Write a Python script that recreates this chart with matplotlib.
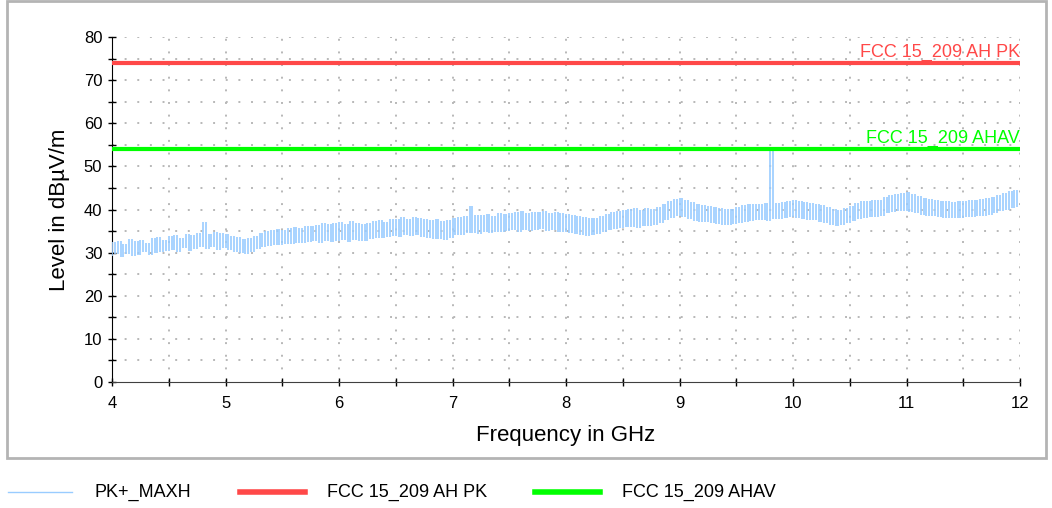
import numpy as np
import matplotlib

matplotlib.use("Agg")
import matplotlib.pyplot as plt
from matplotlib.lines import Line2D
from matplotlib.patches import Rectangle
from matplotlib.ticker import MultipleLocator

plt.rcParams["font.family"] = ["Liberation Sans", "DejaVu Sans"]

level = [
    29.2, 32.4, 29.6, 32.8, 29.0, 31.9, 29.8, 33.1, 29.3, 32.6,
    29.5, 33.0, 30.1, 32.2, 29.4, 33.4, 30.0, 33.6, 30.2, 32.9,
    30.3, 33.9, 30.6, 34.1, 30.1, 33.5, 31.0, 34.3, 30.4, 34.0,
    30.8, 34.6, 31.2, 37.2, 30.9, 34.4, 31.3, 34.8, 30.7, 34.5,
    31.0, 34.4, 30.6, 33.8, 30.2, 33.6, 30.0, 33.2, 29.8, 33.5,
    30.2, 33.9, 30.9, 34.6, 31.3, 35.0, 31.6, 35.2, 31.8, 35.4,
    31.7, 35.3, 32.0, 35.8, 31.9, 36.0, 32.3, 35.7, 32.2, 36.1,
    32.4, 36.3, 32.6, 36.5, 32.3, 36.8, 32.8, 36.6, 32.5, 36.9,
    32.6, 37.0, 32.9, 36.7, 32.4, 37.3, 33.0, 36.9, 32.8, 36.6,
    32.7, 36.9, 33.1, 37.4, 33.3, 37.6, 33.5, 37.2, 33.6, 37.8,
    33.8, 37.9, 33.6, 38.2, 34.0, 37.7, 33.9, 38.3, 34.1, 38.0,
    33.7, 37.8, 33.4, 37.5, 33.2, 37.9, 33.1, 37.4, 33.0, 37.6,
    33.4, 38.0, 34.0, 38.3, 34.2, 38.6, 34.5, 40.8, 34.6, 38.7,
    34.4, 38.8, 34.7, 39.0, 34.5, 38.6, 34.8, 39.2, 34.9, 38.9,
    35.0, 39.1, 35.2, 39.4, 34.9, 39.6, 35.3, 39.3, 35.1, 39.5,
    35.2, 39.4, 35.4, 39.7, 35.0, 39.2, 35.3, 39.5, 34.9, 39.1,
    34.8, 39.0, 34.6, 38.7, 34.3, 38.4, 34.1, 38.2, 33.9, 38.0,
    34.0, 38.1, 34.4, 38.6, 34.9, 39.0, 35.3, 39.4, 35.6, 39.6,
    35.7, 39.8, 35.9, 40.1, 36.0, 40.3, 35.8, 40.0, 36.2, 40.4,
    36.1, 40.2, 36.4, 40.6, 36.9, 41.3, 37.5, 41.9, 38.1, 42.4,
    38.4, 42.6, 38.2, 42.3, 37.7, 41.8, 37.4, 41.3, 37.2, 41.0,
    37.0, 40.9, 36.8, 40.6, 36.6, 40.4, 36.5, 40.2, 36.4, 40.1,
    36.6, 40.5, 36.9, 41.0, 37.2, 41.3, 37.4, 41.2, 37.5, 41.4,
    37.6, 41.5, 37.4, 54.0, 37.7, 41.6, 37.9, 41.8, 38.0, 42.0,
    38.2, 42.3, 38.1, 42.0, 37.9, 41.8, 37.6, 41.5, 37.5, 41.3,
    37.2, 41.0, 36.9, 40.6, 36.5, 40.2, 36.3, 40.0, 36.4, 40.3,
    36.9, 40.8, 37.4, 41.5, 37.8, 41.9, 38.1, 42.0, 38.2, 42.2,
    38.3, 42.3, 38.6, 42.8, 39.1, 43.3, 39.4, 43.6, 39.6, 43.8,
    39.7, 44.1, 39.5, 43.6, 39.2, 43.2, 38.8, 42.7, 38.6, 42.4,
    38.4, 42.2, 38.3, 42.0, 38.1, 41.9, 38.0, 41.8, 38.1, 42.0,
    38.0, 41.9, 38.2, 42.1, 38.3, 42.3, 38.5, 42.4, 38.6, 42.6,
    38.8, 42.8, 39.2, 43.3, 39.6, 43.8, 40.0, 44.2, 40.3, 44.5,
    40.6,
]
freq = np.linspace(4, 12, len(level))

limit_freq = [4, 12]
limit_pk = [74, 74]
limit_av = [54, 54]

series_names = ["PK+_MAXH", "FCC 15_209 AH PK", "FCC 15_209 AHAV"]
trace_color = "#99ccff"
pk_color = "#ff4848"
av_color = "#00ff00"

fig = plt.figure(figsize=(10.52, 5.08), dpi=100)
ax = fig.add_axes([0.1065, 0.248, 0.8631, 0.679])

# outer frame around the chart
fig.patches.append(Rectangle((0.0067, 0.0984), 0.9876, 0.8996, transform=fig.transFigure,
                             fill=False, edgecolor="#b4b4b4", linewidth=2))

# dotted grid
for x in np.arange(4.5, 12.01, 0.5):
    ax.axvline(x, color="#b8b8b8", lw=1.4, dashes=(1, 5.5), zorder=1)
for y in np.arange(5, 80.1, 5):
    ax.axhline(y, color="#b8b8b8", lw=1.4, dashes=(1, 5.5), zorder=1)

# max-hold trace drawn as vertical strokes between neighbouring samples
lv = np.array(level)
ax.vlines(freq[:-1], lv[:-1], lv[1:], color=trace_color, lw=1.2, zorder=3)
ax.plot(limit_freq, limit_pk, color=pk_color, lw=3, zorder=4, solid_capstyle="butt")
ax.plot(limit_freq, limit_av, color=av_color, lw=3, zorder=4, solid_capstyle="butt")

ax.text(12, limit_pk[0] + 0.4, series_names[1], color=pk_color, fontsize=13,
        ha="right", va="bottom")
ax.text(12, limit_av[0] + 0.4, series_names[2], color=av_color, fontsize=13,
        ha="right", va="bottom")

ax.set_xlim(4, 12)
ax.set_ylim(0, 80)
ax.xaxis.set_major_locator(MultipleLocator(1))
ax.xaxis.set_minor_locator(MultipleLocator(0.5))
ax.yaxis.set_major_locator(MultipleLocator(10))
ax.yaxis.set_minor_locator(MultipleLocator(5))
ax.tick_params(which="both", direction="inout", length=6, width=1, labelsize=12)
ax.tick_params(axis="y", pad=4)
ax.tick_params(axis="x", pad=7)

for s in ["top", "right"]:
    ax.spines[s].set_visible(False)
ax.spines["left"].set_color("black")
ax.spines["bottom"].set_color("#404040")

ax.set_xlabel("Frequency in GHz", fontsize=16, labelpad=10)
ax.set_ylabel("Level in dBµV/m", fontsize=16, labelpad=10)

# legend row below the frame
leg_y = 1 - 492 / 508
for (x0, x1, tx), color, lw, name in zip(
    [(8, 72, 95), (240, 305, 327), (535, 600, 622)],
    [trace_color, pk_color, av_color],
    [1, 4, 4],
    series_names,
):
    fig.add_artist(Line2D([x0 / 1052, x1 / 1052], [leg_y, leg_y], color=color, lw=lw,
                          transform=fig.transFigure))
    fig.text(tx / 1052, leg_y, name, fontsize=13, ha="left", va="center")

fig.savefig("out.png", dpi=100)
